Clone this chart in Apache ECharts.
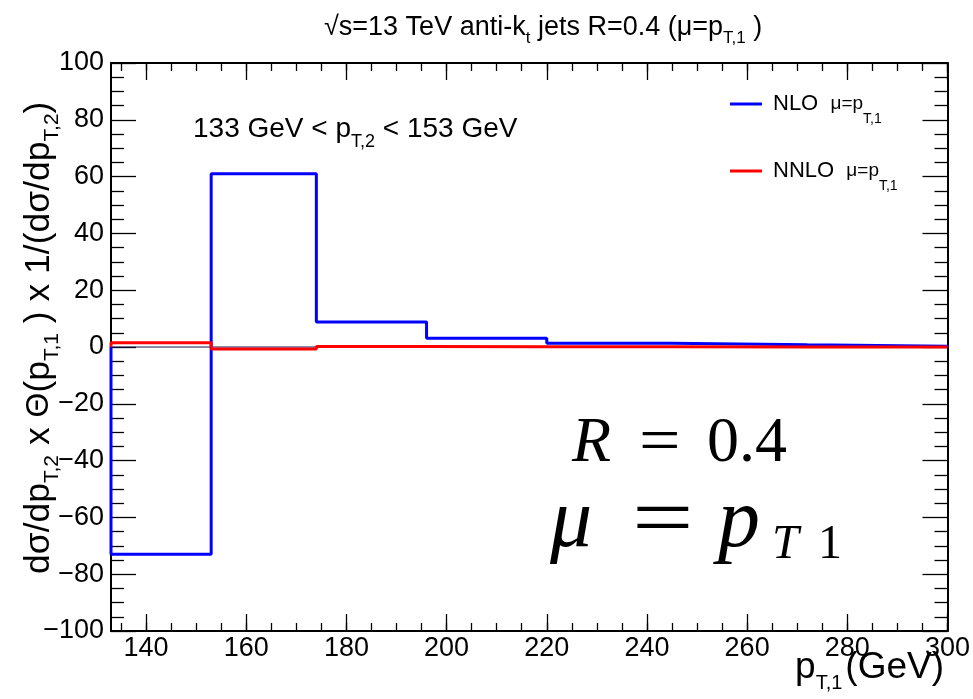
<!DOCTYPE html>
<html>
<head>
<meta charset="utf-8">
<script src="https://cdn.jsdelivr.net/npm/echarts@6/dist/echarts.min.js"></script>
<style>html,body{margin:0;padding:0;background:#fff}#c{width:973px;height:699px}</style>
</head>
<body>
<div id="c"></div>
<script>
// ---- data ----
const binEdges = [133, 153, 174, 196, 220, 245, 272, 300];
const nloValues = [-73.0, 61.0, 8.8, 3.1, 1.35, 0.75, 0.3];
const nnloValues = [1.5, -0.7, 0.15, 0.1, 0.06, 0.04, 0.02];
const zeroLineX = [133, 174];
const xMajorTicks = [140, 160, 180, 200, 220, 240, 260, 280, 300];
const xMinorTicks = [135,140,145,150,155,160,165,170,175,180,185,190,195,200,205,210,215,220,225,230,235,240,245,250,255,260,265,270,275,280,285,290,295,300];
const seriesNames = ['NLO', 'NNLO'];

function stepPoints(edges, vals) {
  const pts = [[edges[0], 0]];
  for (let i = 0; i < vals.length; i++) {
    pts.push([edges[i], vals[i]]);
    pts.push([edges[i + 1], vals[i]]);
  }
  pts.push([edges[edges.length - 1], 0]);
  return pts;
}

const FONT = "'Liberation Sans',Arial,sans-serif";
const SERIF = "'Liberation Serif','DejaVu Serif',serif";

const chart = echarts.init(document.getElementById('c'), null, {renderer: 'canvas'});
const axisLineStyle = {color: '#000', width: 2};
const tickStyle = {color: '#000', width: 1.3};

function xAx(pos, ticks, len, showLine, labels) {
  return {
    type: 'value', position: pos, min: 133, max: 300,
    axisLine: {show: showLine, onZero: false, lineStyle: axisLineStyle},
    axisTick: {show: true, inside: true, length: len, customValues: ticks, lineStyle: tickStyle},
    axisLabel: labels ? {show: true, customValues: xMajorTicks, color: '#000', fontSize: 27, fontFamily: FONT, margin: 4} : {show: false},
    splitLine: {show: false}
  };
}
function yAx(pos, labels) {
  return {
    type: 'value', position: pos, min: -100, max: 100, interval: 20,
    axisLine: {show: true, onZero: false, lineStyle: axisLineStyle},
    axisTick: {show: true, inside: true, length: 25, lineStyle: tickStyle},
    minorTick: {show: true, splitNumber: 4, length: 13, lineStyle: tickStyle},
    axisLabel: labels ? {show: true, color: '#000', fontSize: 27, fontFamily: FONT, margin: 7,
      formatter: v => v < 0 ? '\u2212' + Math.abs(v) : String(v)} : {show: false},
    splitLine: {show: false}
  };
}

const option = {
  animation: false,
  backgroundColor: '#fff',
  grid: {left: 111, right: 25, top: 63, bottom: 68, containLabel: false},
  xAxis: [
    xAx('bottom', xMajorTicks, 17, true, true),
    xAx('bottom', xMinorTicks, 8, false, false),
    xAx('top', xMajorTicks, 17, true, false),
    xAx('top', xMinorTicks, 8, false, false)
  ],
  yAxis: [yAx('left', true), yAx('right', false)],
  legend: {
    show: true, orient: 'vertical', left: 725, top: 88, itemGap: 34,
    icon: 'rect', itemWidth: 32, itemHeight: 3,
    data: seriesNames,
    formatter: n => '{n|' + n + '}{sp|  }{m|\u03bc=p}{s|T,1}',
    textStyle: {
      padding: [0, 0, 0, 6],
      rich: {
        n: {fontSize: 22, fontFamily: FONT, color: '#000', lineHeight: 44, verticalAlign: 'middle'},
        sp: {fontSize: 22, fontFamily: FONT, lineHeight: 44, verticalAlign: 'middle'},
        m: {fontSize: 19, fontFamily: FONT, color: '#000', lineHeight: 44, verticalAlign: 'middle'},
        s: {fontSize: 14, fontFamily: FONT, color: '#000', lineHeight: 12, verticalAlign: 'bottom'}
      }
    }
  },
  series: [
    {name: 'zero', type: 'line', data: zeroLineX.map(x => [x, 0]), symbol: 'none',
     lineStyle: {color: '#141450', width: 1}, silent: true, z: 1},
    {name: seriesNames[0], type: 'line', data: stepPoints(binEdges, nloValues), symbol: 'none',
     color: '#0000ff', lineStyle: {color: '#0000ff', width: 3}, z: 3},
    {name: seriesNames[1], type: 'line', data: stepPoints(binEdges, nnloValues), symbol: 'none',
     color: '#ff0000', lineStyle: {color: '#ff0000', width: 3}, z: 4}
  ],
  graphic: [
    // title
    {type: 'text', left: 324, top: 14, style: {
      text: '{b|\u221as=13 TeV anti-k}{s|t}{b| jets R=0.4 (\u03bc=p}{s|T,1}{b| )}',
      rich: {
        b: {fontSize: 27, fontFamily: FONT, color: '#000', lineHeight: 38, verticalAlign: 'middle'},
        s: {fontSize: 17, fontFamily: FONT, color: '#000', lineHeight: 15, verticalAlign: 'bottom'}
      }}},
    // annotation
    {type: 'text', left: 193, top: 115, style: {
      text: '{b|133 GeV < p}{s|T,2}{b| < 153 GeV}',
      rich: {
        b: {fontSize: 28, fontFamily: FONT, color: '#000', lineHeight: 44, verticalAlign: 'middle'},
        s: {fontSize: 18, fontFamily: FONT, color: '#000', lineHeight: 16, verticalAlign: 'bottom'}
      }}},
    // y axis title
    {type: 'text', x: 15, y: 574, rotation: Math.PI / 2, style: {
      text: '{b|d\u03c3/dp}{s|T,2}{b| x }{g|\u0398}{b|(p}{s|T,1}{b| ) x 1/(d\u03c3/dp}{s|T,2}{b|)}',
      rich: {
        b: {fontSize: 35.5, fontFamily: FONT, color: '#000', lineHeight: 48, verticalAlign: 'middle'},
        s: {fontSize: 21, fontFamily: FONT, color: '#000', lineHeight: 18, verticalAlign: 'bottom'},
        g: {fontSize: 32, fontFamily: FONT, color: '#000', lineHeight: 48, verticalAlign: 'middle'}
      }}},
    // x axis title
    {type: 'text', right: 29, top: 649, style: {
      text: '{b|p}{s|T,1}{g|(GeV)}',
      rich: {
        b: {fontSize: 37, fontFamily: FONT, color: '#000', lineHeight: 52, verticalAlign: 'middle'},
        g: {fontSize: 37, fontFamily: FONT, color: '#000', lineHeight: 52, verticalAlign: 'middle', padding: [0, 0, 0, 3]},
        s: {fontSize: 20, fontFamily: FONT, color: '#000', lineHeight: 14, verticalAlign: 'bottom'}
      }}},
    // R = 0.4
    {type: 'text', x: 572, y: 412, style: {text: 'R', font: 'italic 64px ' + SERIF, fill: '#000'}},
    {type: 'text', x: 639, y: 412, scaleX: 1.15, style: {text: '=', font: '64px ' + SERIF, fill: '#000'}},
    {type: 'text', x: 707, y: 412, style: {text: '0.4', font: '64px ' + SERIF, fill: '#000'}},
    // mu = p_T1
    {type: 'text', x: 550, y: 482, style: {text: '\u03bc', font: 'italic 84px ' + SERIF, fill: '#000'}},
    {type: 'text', x: 632, y: 482, scaleX: 1.3, style: {text: '=', font: '84px ' + SERIF, fill: '#000'}},
    {type: 'text', x: 718, y: 482, style: {text: 'p', font: 'italic 84px ' + SERIF, fill: '#000'}},
    {type: 'text', x: 772, y: 521, style: {text: 'T', font: 'italic 48px ' + SERIF, fill: '#000'}},
    {type: 'text', x: 818, y: 521, style: {text: '1', font: '48px ' + SERIF, fill: '#000'}}
  ]
};
chart.setOption(option);
</script>
</body>
</html>
